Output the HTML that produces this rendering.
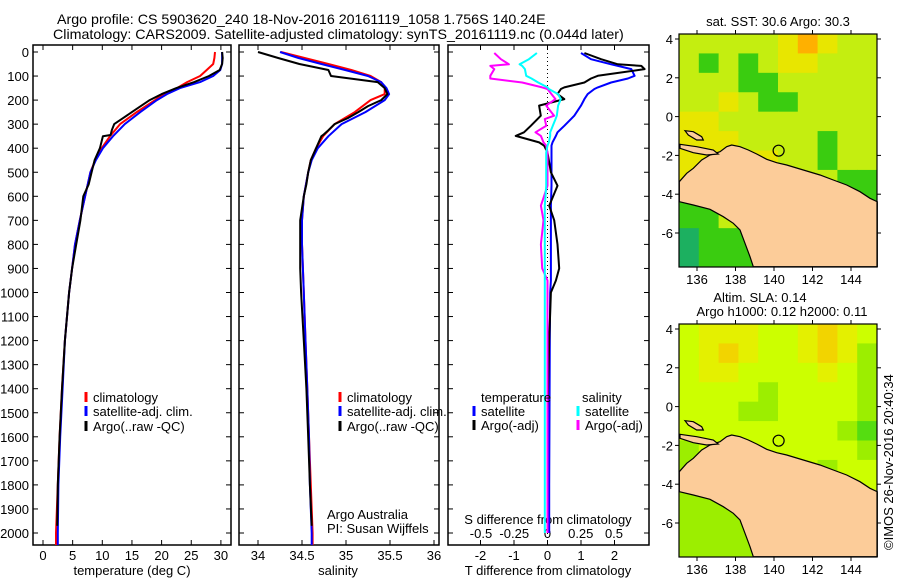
<!DOCTYPE html>
<html><head><meta charset="utf-8">
<style>
html,body{margin:0;padding:0;background:#fff;}
svg{display:block;font-family:"Liberation Sans",Arial,sans-serif;}
text{font-size:13px;fill:#000;}
</style></head>
<body>
<svg id="chart" width="900" height="580" viewBox="0 0 900 580" xmlns="http://www.w3.org/2000/svg">
<text id="t1" x="57" y="24">Argo profile: CS 5903620_240 18-Nov-2016 20161119_1058 1.756S 140.24E</text>
<text id="t2" x="53" y="39">Climatology: CARS2009. Satellite-adjusted climatology: synTS_20161119.nc (0.044d later)</text>
<g id="g1"></g>
<g id="g2"></g>
<g id="g3"></g>
<g id="m1"></g>
<g id="m2"></g>
<text x="778" y="26" text-anchor="middle">sat. SST: 30.6 Argo: 30.3</text>
<text x="760" y="302" text-anchor="middle">Altim. SLA: 0.14</text>
<text x="782" y="316" text-anchor="middle">Argo h1000: 0.12 h2000: 0.11</text>
<text transform="translate(893,550) rotate(-90)" x="0" y="0">©IMOS 26-Nov-2016 20:40:34</text>
</svg>
<script>
// ---------- data ----------
const depths = [0,25,50,75,100,125,150,175,200,250,300,350,400,450,500,600,700,800,900,1000,1200,1400,1600,1800,2000,2050];
const tempClim = [29.0,28.9,28.7,27.6,26.5,24.3,22.6,20.3,18.9,15.8,13.0,11.3,9.9,8.8,8.0,7.1,6.2,5.4,4.9,4.4,3.7,3.2,2.8,2.5,2.2,2.2];
const tempSat  = [30.2,30.2,30.2,29.9,28.7,26.5,23.1,20.9,19.2,16.4,13.8,11.8,10.1,8.9,8.0,7.1,6.2,5.4,4.9,4.4,3.7,3.3,2.9,2.6,2.5,2.5];
const argoDepths = [0,25,50,75,100,125,150,175,200,225,250,275,300,325,345,350,400,450,500,550,600,700,800,900,1000,1200,1400,1600,1800,1970];
const tempArgo = [30.2,30.3,30.2,29.8,28.0,25.5,22.5,20.0,18.0,16.5,15.0,13.5,12.0,11.6,11.4,10.1,9.6,8.7,8.2,7.7,6.8,6.3,5.6,4.9,4.4,3.7,3.2,2.8,2.5,2.4];
const salClim = [34.26,34.53,34.80,35.06,35.28,35.40,35.44,35.44,35.28,35.10,34.87,34.74,34.66,34.60,34.57,34.52,34.50,34.50,34.51,34.52,34.54,34.56,34.58,34.60,34.62,34.62];
const salSat  = [34.25,34.46,34.72,34.99,35.25,35.40,35.46,35.49,35.44,35.22,34.95,34.80,34.68,34.61,34.57,34.52,34.50,34.50,34.51,34.52,34.54,34.56,34.58,34.59,34.61,34.61];
const salArgo = [34.00,34.23,34.47,34.80,34.83,35.36,35.44,35.47,35.40,35.25,35.14,35.02,34.87,34.80,34.74,34.72,34.66,34.60,34.57,34.55,34.52,34.48,34.48,34.48,34.49,34.52,34.55,34.57,34.59,34.61];
const diffDepths = [4,30,51,58,71,99,110,127,147,154,175,196,223,265,279,307,334,349,376,389,418,500,556,639,700,800,900,950,1000,1200,1500,1800,2000];
const dTSat  = [1.0,1.3,1.9,2.1,2.5,2.6,2.4,1.9,1.5,1.4,1.2,1.1,1.0,0.8,0.7,0.5,0.3,0.25,0.15,0.12,0.12,0.12,0.12,0.1,0.1,0.1,0.1,0.1,0.08,0.07,0.06,0.05,0.05];
const dTArgo = [1.1,1.6,2.1,2.8,2.9,1.5,1.3,1.1,0.5,0.4,0.3,0.5,-0.25,-0.2,-0.3,-0.5,-0.7,-0.95,-0.25,-0.1,0.0,0.1,0.3,0.05,0.2,0.3,0.35,0.25,0.1,0.05,0.0,0.0,0.0];
const dSSat  = [-0.08,-0.14,-0.21,-0.19,-0.17,-0.16,-0.12,-0.07,0.0,0.01,0.08,0.1,0.08,0.07,0.06,0.04,0.02,0.02,0.01,0.0,-0.01,-0.01,-0.01,-0.02,-0.02,-0.02,-0.02,-0.02,-0.02,-0.02,-0.02,-0.02,-0.02];
const dSArgo = [-0.40,-0.35,-0.29,-0.43,-0.40,-0.43,-0.43,-0.19,-0.04,0.0,0.03,0.06,-0.01,0.05,-0.02,-0.01,-0.09,-0.05,-0.03,-0.01,0.0,0.0,0.0,-0.05,-0.03,-0.05,-0.04,0.0,0.0,0.0,0.0,0.0,0.0];
const depthTicks = [0,100,200,300,400,500,600,700,800,900,1000,1100,1200,1300,1400,1500,1600,1700,1800,1900,2000];
const tempTicks = [0,5,10,15,20,25,30];
const salTicks = [34,34.5,35,35.5,36];
const dTTicks = [-2,-1,0,1,2];
const dSTicks = [-0.5,-0.25,0,0.25,0.5];
const lonTicks = [136,138,140,142,144];
const latTicks = [4,2,0,-2,-4,-6];
const sstGrid = [
[2,2,2,2,2,3,4,3,2,2],[2,1,2,1,2,3,3,2,2,2],[2,2,2,1,1,2,2,2,2,2],[2,2,3,2,1,1,2,2,2,2],
[3,3,2,2,2,2,2,2,2,2],[3,3,3,2,2,2,2,1,2,2],[3,3,3,3,3,2,2,1,2,2],[3,2,2,2,2,2,2,2,1,1],
[1,1,1,2,2,2,2,2,1,1],[1,1,2,2,2,2,2,2,2,2],[0,1,1,1,2,2,2,2,2,2],[0,1,1,1,2,2,2,2,2,2]];
const slaGrid = [
[2,3,3,3,2,2,3,4,3,2],[2,3,4,3,2,2,3,4,3,1],[2,3,3,2,2,2,2,3,2,1],[2,2,2,2,1,2,2,2,2,1],
[2,2,2,1,1,2,2,2,2,1],[2,2,2,2,2,2,2,2,1,0],[1,2,2,2,2,2,2,2,2,1],[1,2,2,2,2,2,2,1,2,2],
[1,1,2,2,2,2,2,2,2,2],[1,1,1,1,2,2,2,2,2,2],[1,1,1,1,2,2,2,2,2,2],[1,1,1,1,2,2,2,2,2,2]];
const argoLon = 140.24, argoLat = -1.756;

// ---------- helpers ----------
const NS='http://www.w3.org/2000/svg';
function mk(parent, tag, attrs, txt){const e=document.createElementNS(NS,tag);for(const k in attrs)e.setAttribute(k,attrs[k]);if(txt!==undefined)e.textContent=txt;parent.appendChild(e);return e;}
const yD = d => 52 + d*0.2405;
const xT = t => 43 + t*5.93;
const xS = s => 258 + (s-34)*88;
const xDT = v => 547.5 + v*33.5;
const xDS = v => 547.5 + v*133;
const TOP=45, BOT=545;

// title sizing: "Argo profile: ... 18-Nov-2016" spans 57..335 in reference
(function(){
  const svg=document.getElementById('chart');
  const tmp=mk(svg,'text',{x:0,y:-50},'Argo profile: CS 5903620_240 18-Nov-2016');
  const w=tmp.getComputedTextLength();
  svg.removeChild(tmp);
  const fs=13*278/w;
  document.getElementById('t1').style.fontSize=fs+'px';
  document.getElementById('t2').style.fontSize=fs+'px';
})();

function line(g, xs, ds, fx, color, name){
  const pts = xs.map((v,i)=>fx(v).toFixed(1)+','+yD(ds[i]).toFixed(1)).join(' ');
  const p = mk(g,'polyline',{points:pts,fill:'none',stroke:color,'stroke-width':2,'stroke-linejoin':'round'});
  
  
}
function frame(g, x0, x1, labels){
  const r = mk(g,'rect',{x:x0,y:TOP,width:x1-x0,height:BOT-TOP,fill:'none',stroke:'#000','stroke-width':1.5});
  
  
  depthTicks.forEach(d=>{
    mk(g,'line',{x1:x0,x2:x0+5,y1:yD(d),y2:yD(d),stroke:'#000'});
    mk(g,'line',{x1:x1-5,x2:x1,y1:yD(d),y2:yD(d),stroke:'#000'});
    if(labels){const t=mk(g,'text',{x:29,y:yD(d)+5,'text-anchor':'end'},String(d));
      
      }
  });
}
function xticks(g, ticks, fx, y, fmt){
  ticks.forEach(v=>{
    const x=fx(v);
    mk(g,'line',{x1:x,x2:x,y1:TOP,y2:TOP+5,stroke:'#000'});
    mk(g,'line',{x1:x,x2:x,y1:BOT-5,y2:BOT,stroke:'#000'});
    const t=mk(g,'text',{x:x,y:y,'text-anchor':'middle'},fmt(v));
    
    
  });
}
function legend(g, x, y, color, label){
  mk(g,'line',{x1:x,x2:x,y1:y-10,y2:y,stroke:color,'stroke-width':3});
  const t=mk(g,'text',{x:x+7,y:y},label);
  
  
}

// ---------- panel 1 ----------
const g1=document.getElementById('g1');
frame(g1,33,231,true);
xticks(g1,tempTicks,xT,560,v=>String(v));
line(g1,tempClim,depths,xT,'#ff0000','temp-climatology-line');
line(g1,tempSat,depths,xT,'#0000ff','temp-satellite-line');
line(g1,tempArgo,argoDepths,xT,'#000000','temp-argo-line');
mk(g1,'text',{x:132,y:575,'text-anchor':'middle'},'temperature (deg C)');
legend(g1,86,402,'#ff0000','climatology');
legend(g1,86,416,'#0000ff','satellite-adj. clim.');
legend(g1,86,431,'#000000','Argo(..raw -QC)');

// ---------- panel 2 ----------
const g2=document.getElementById('g2');
frame(g2,239,439,false);
xticks(g2,salTicks,xS,560,v=>String(v));
line(g2,salClim,depths,xS,'#ff0000','sal-climatology-line');
line(g2,salSat,depths,xS,'#0000ff','sal-satellite-line');
line(g2,salArgo,argoDepths,xS,'#000000','sal-argo-line');
mk(g2,'text',{x:338,y:575,'text-anchor':'middle'},'salinity');
legend(g2,340,402,'#ff0000','climatology');
legend(g2,340,416,'#0000ff','satellite-adj. clim.');
legend(g2,340,431,'#000000','Argo(..raw -QC)');
mk(g2,'text',{x:327,y:519,'font-size':'12.5'},'Argo Australia');
mk(g2,'text',{x:327,y:533,'font-size':'12.5'},'PI: Susan Wijffels');

// ---------- panel 3 ----------
const g3=document.getElementById('g3');
frame(g3,448,649,false);
mk(g3,'line',{x1:xDT(0),x2:xDT(0),y1:TOP,y2:BOT,stroke:'#000','stroke-dasharray':'1,3'});
xticks(g3,dTTicks,xDT,560,v=>String(v));
dSTicks.forEach(v=>{const t=mk(g3,'text',{x:xDS(v),y:538,'text-anchor':'middle'},String(v));
  
  });
mk(g3,'text',{x:548,y:524,'text-anchor':'middle'},'S difference from climatology');
mk(g3,'text',{x:548,y:575,'text-anchor':'middle'},'T difference from climatology');
line(g3,dTSat,diffDepths,xDT,'#0000ff','t-diff-satellite-line');
line(g3,dTArgo,diffDepths,xDT,'#000000','t-diff-argo-line');
line(g3,dSArgo,diffDepths,xDS,'#ff00ff','s-diff-argo-line');
line(g3,dSSat,diffDepths,xDS,'#00ffff','s-diff-satellite-line');
mk(g3,'text',{x:481,y:402},'temperature');
mk(g3,'text',{x:582,y:402},'salinity');
legend(g3,474,416,'#0000ff','satellite');
legend(g3,474,430,'#000000','Argo(-adj)');
legend(g3,578,416,'#00ffff','satellite');
legend(g3,578,430,'#ff00ff','Argo(-adj)');

// ---------- maps ----------
const MX0=679, MX1=877;
const lonX = lon => 697 + (lon-136)*19.25;
const latY0 = lat => 116.6 - lat*19.4;
const landMain = [[58,545],[80,520],[100,505],[125,480],[150,465],[180,455],[200,440],[215,435],[240,440],[265,450],[290,462],[320,478],[350,488],[380,495],[430,510],[480,525],[520,540],[560,555],[600,575],[630,595],[652,605],[652,800],[280,800],[270,770],[255,730],[240,690],[220,670],[190,650],[150,628],[100,615],[58,605]];
const island1 = [[75,392],[100,395],[125,410],[130,420],[110,420],[85,405]];
const island2 = [[60,433],[110,440],[160,450],[175,462],[140,465],[100,458],[60,445]];
const sstColors=['#1cb060','#3acc10','#c4ee10','#e8e600','#ffb000'];
const slaColors=['#55dd11','#9cee00','#ccff00','#e4f000','#f2d400'];
function drawMap(id, grid, colors, top){
  const g=document.getElementById(id);
  const off = top-34;
  const bot = top+233;
  const cw=(MX1-MX0)/10, ch=(bot-top)/12;
  grid.forEach((row,r)=>row.forEach((v,c)=>{
    const e=mk(g,'rect',{x:MX0+c*cw,y:top+r*ch,width:cw+0.5,height:ch+0.5,fill:colors[v]});
    
    
  }));
  const conv = pts => pts.map(p=>(660+p[0]/3).toFixed(1)+','+(p[1]/3+off).toFixed(1)).join(' ');
  [landMain,island1,island2].forEach(poly=>{
    const p=mk(g,'polygon',{points:conv(poly),fill:'#fccc99',stroke:'#000','stroke-width':1.2});
    
    
  });
  const c=mk(g,'circle',{cx:lonX(argoLon),cy:latY0(argoLat)+off,r:5.5,fill:'none',stroke:'#000','stroke-width':1.2});
  
  
  mk(g,'rect',{x:MX0,y:top,width:MX1-MX0,height:bot-top,fill:'none',stroke:'#000','stroke-width':1.2});
  lonTicks.forEach(l=>{const x=lonX(l);
    mk(g,'line',{x1:x,x2:x,y1:top-4,y2:top,stroke:'#000'});
    mk(g,'line',{x1:x,x2:x,y1:bot,y2:bot+4,stroke:'#000'});
    const t=mk(g,'text',{x:x,y:bot+17,'text-anchor':'middle'},String(l));
    
    });
  latTicks.forEach(l=>{const y=latY0(l)+off;
    mk(g,'line',{x1:MX0-4,x2:MX0,y1:y,y2:y,stroke:'#000'});
    mk(g,'line',{x1:MX1,x2:MX1+4,y1:y,y2:y,stroke:'#000'});
    const t=mk(g,'text',{x:MX0-6,y:y+5,'text-anchor':'end'},String(l));
    
    });
}
drawMap('m1',sstGrid,sstColors,34);
drawMap('m2',slaGrid,slaColors,324);
</script>
</body></html>
